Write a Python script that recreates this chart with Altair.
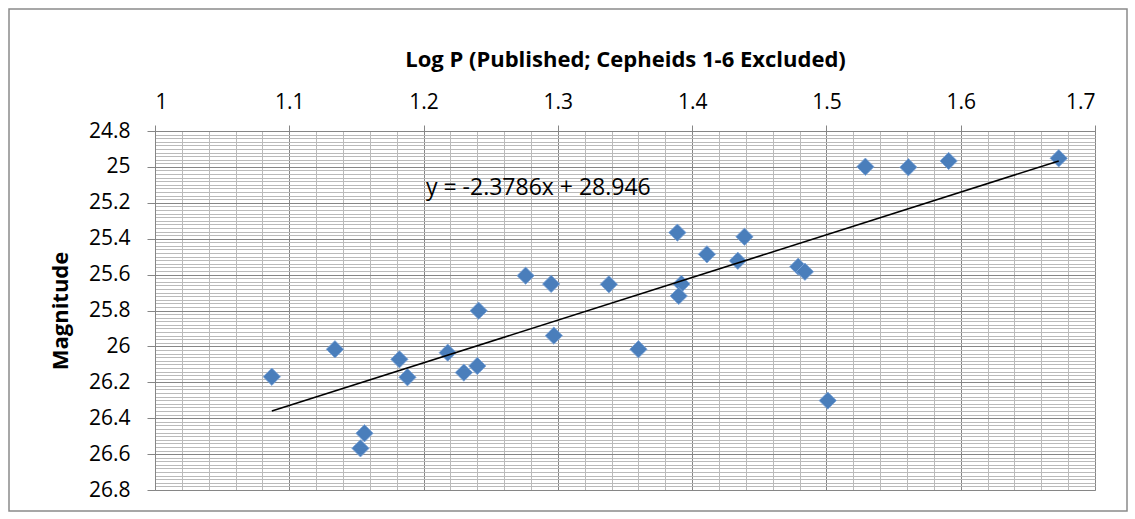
import altair as alt
import pandas as pd

# Cepheid period-luminosity data (log period vs. apparent magnitude)
log_p = [1.087, 1.134, 1.156, 1.153, 1.182, 1.188, 1.218, 1.230, 1.240, 1.241,
         1.276, 1.295, 1.297, 1.338, 1.360, 1.389, 1.392, 1.390, 1.411, 1.434,
         1.439, 1.479, 1.484, 1.501, 1.529, 1.561, 1.591, 1.673]
magnitude = [26.169, 26.016, 26.484, 26.568, 26.072, 26.172, 26.035, 26.146, 26.109, 25.801,
             25.606, 25.652, 25.940, 25.654, 26.016, 25.366, 25.652, 25.719, 25.487, 25.523,
             25.389, 25.556, 25.584, 26.302, 24.999, 25.002, 24.967, 24.952]

# Linear trendline y = slope * x + intercept
slope = -2.3786
intercept = 28.946
equation_label = "y = -2.3786x + 28.946"
equation_pos = (1.2018, 25.118)

# Axis ticks: labelled majors and unlabelled minor grid steps
x_major = [1.0, 1.1, 1.2, 1.3, 1.4, 1.5, 1.6, 1.7]
y_major = [24.8, 25.0, 25.2, 25.4, 25.6, 25.8, 26.0, 26.2, 26.4, 26.6, 26.8]
x_minor = [round(1.0 + 0.02 * i, 2) for i in range(36)]
y_minor = [round(24.8 + 0.02 * i, 2) for i in range(101)]

FONT = "Open Sans"
MAJOR_GRID = "#868686"
MINOR_GRID = "#bababa"
W, H = 940, 359

points = pd.DataFrame({"logp": log_p, "mag": magnitude})
x_ends = [min(log_p), max(log_p)]
trend = pd.DataFrame({"logp": x_ends, "mag": [slope * v + intercept for v in x_ends]})
note = pd.DataFrame({"logp": [equation_pos[0]], "mag": [equation_pos[1]], "txt": [equation_label]})

x_scale = alt.Scale(domain=[1.0, 1.7], nice=False, zero=False)
y_scale = alt.Scale(domain=[24.8, 26.8], reverse=True, nice=False, zero=False)

# Minor grid layer (invisible marks carrying the fine grid axes)
minor = alt.Chart(points).mark_point(opacity=0).encode(
    x=alt.X("logp:Q", scale=x_scale,
            axis=alt.Axis(orient="top", values=x_minor, grid=True, gridColor=MINOR_GRID,
                          gridWidth=1, labels=False, ticks=False, domain=False, title=None)),
    y=alt.Y("mag:Q", scale=y_scale,
            axis=alt.Axis(orient="left", values=y_minor, grid=True, gridColor=MINOR_GRID,
                          gridWidth=1, labels=False, ticks=False, domain=False, title=None)),
)

# Data points with the labelled axes
scatter = alt.Chart(points).mark_point(
    shape="diamond", filled=True, size=300, color="#4a7ebb", opacity=1,
    stroke="#7ea6da", strokeWidth=0.8,
).encode(
    x=alt.X("logp:Q", scale=x_scale,
            axis=alt.Axis(orient="top", values=x_major, format="~g", grid=True,
                          gridColor=MAJOR_GRID, gridWidth=1,
                          title="Log P (Published; Cepheids 1-6 Excluded)",
                          titleFont=FONT, titleFontSize=22, titleFontWeight="bold",
                          titleColor="#000000", titlePadding=20,
                          labelFont=FONT, labelFontSize=21, labelColor="#000000",
                          labelPadding=13, tickSize=6, tickColor=MAJOR_GRID,
                          domainColor=MAJOR_GRID)),
    y=alt.Y("mag:Q", scale=y_scale,
            axis=alt.Axis(orient="left", values=y_major, format="~g", grid=True,
                          gridColor=MAJOR_GRID, gridWidth=1,
                          title="Magnitude", titleFont=FONT, titleFontSize=22,
                          titleFontWeight="bold", titleColor="#000000", titlePadding=16,
                          labelFont=FONT, labelFontSize=21, labelColor="#000000",
                          labelPadding=17, tickSize=8, tickColor=MAJOR_GRID,
                          domainColor=MAJOR_GRID)),
)

trend_line = alt.Chart(trend).mark_line(color="#000000", strokeWidth=1.6).encode(
    x=alt.X("logp:Q", scale=x_scale, axis=None),
    y=alt.Y("mag:Q", scale=y_scale, axis=None),
)

equation = alt.Chart(note).mark_text(
    align="left", baseline="middle", font=FONT, fontSize=23, color="#000000"
).encode(
    x=alt.X("logp:Q", scale=x_scale, axis=None),
    y=alt.Y("mag:Q", scale=y_scale, axis=None),
    text="txt:N",
)

# Outer chart-area frame
frame = alt.Chart(pd.DataFrame({"k": [0]})).mark_rect(
    fill=None, stroke="#8a8a8a", strokeWidth=1.5
).encode(
    x=alt.value(-146), x2=alt.value(W + 32),
    y=alt.value(-122), y2=alt.value(H + 21),
)

chart = alt.layer(minor, scatter, trend_line, equation, frame).resolve_axis(
    x="independent", y="independent"
).properties(
    width=W, height=H,
    padding={"left": 155, "top": 131, "right": 40, "bottom": 29},
    autosize=alt.AutoSizeParams(type="none"),
    background="#ffffff",
).configure_view(stroke=MAJOR_GRID, strokeWidth=1)

chart.save("out.html", embed_options={"renderer": "svg", "actions": False})
